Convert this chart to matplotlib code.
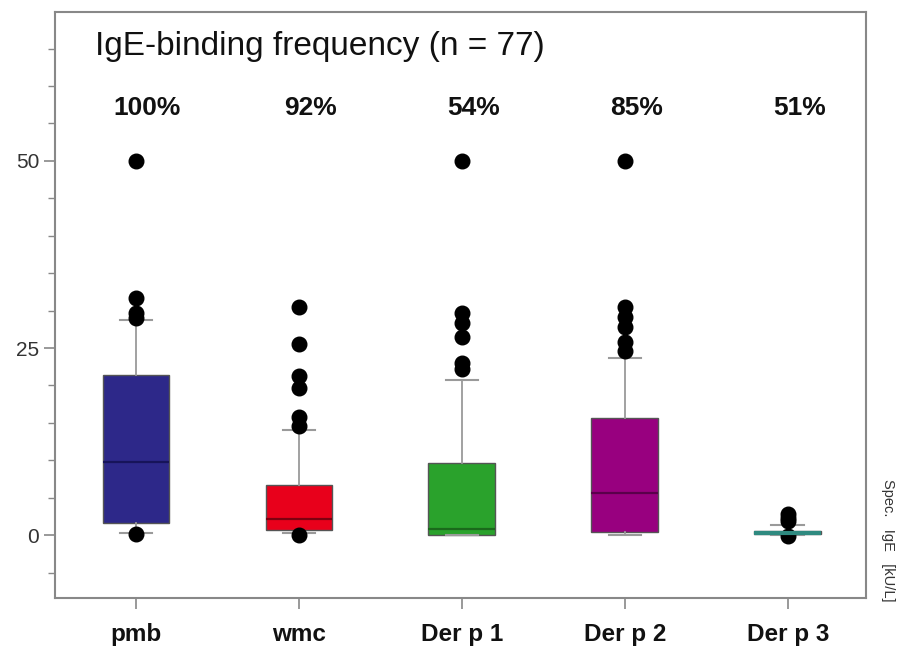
import matplotlib
matplotlib.use("Agg")
import matplotlib.pyplot as plt
from matplotlib.ticker import MultipleLocator

plt.rcParams['font.family'] = ['Liberation Sans', 'DejaVu Sans']

# data (spec. IgE, kU/L)
labels = ["pmb", "wmc", "Der p 1", "Der p 2", "Der p 3"]
percent = ["100%", "92%", "54%", "85%", "51%"]
q1 = [1.6, 0.7, 0.0, 0.45, 0.15]
med = [9.8, 2.1, 0.8, 5.6, 0.35]
q3 = [21.4, 6.7, 9.6, 15.6, 0.55]
whislo = [0.3, 0.25, 0.0, 0.0, 0.0]
whishi = [28.7, 14.0, 20.7, 23.7, 1.4]
fliers = [
    [50, 31.7, 29.7, 29.0, 0.2],
    [30.5, 25.6, 21.2, 19.7, 15.8, 14.6, 0.0],
    [50, 29.7, 28.4, 26.5, 23.0, 22.2],
    [50, 30.5, 29.2, 27.8, 25.8, 24.6],
    [2.8, 2.3, 1.9, -0.1],
]
colors = ["#2d2889", "#e8001b", "#2aa22c", "#98007f", "#2f8a80"]
median_colors = ["#17145a", "#7e0010", "#1a6a1b", "#5a004b", "#1d5c55"]

fig = plt.figure(figsize=(9.05, 6.47), dpi=100)
ax = fig.add_axes([0.0608, 0.0757, 0.8961, 0.9058])

stats = []
for i in range(len(labels)):
    stats.append(dict(q1=q1[i], med=med[i], q3=q3[i], whislo=whislo[i],
                      whishi=whishi[i], fliers=fliers[i], label=labels[i]))

pos = list(range(1, len(labels) + 1))
bp = ax.bxp(stats, positions=pos, widths=0.41, capwidths=0.2, patch_artist=True,
            boxprops=dict(edgecolor="#555555", linewidth=1.0),
            whiskerprops=dict(color="#9a9a9a", linewidth=1.3),
            capprops=dict(color="#9a9a9a", linewidth=1.5),
            flierprops=dict(marker="o", markerfacecolor="black",
                            markeredgecolor="black", markersize=10.5))
for i, b in enumerate(bp["boxes"]):
    b.set_facecolor(colors[i])
for i, m in enumerate(bp["medians"]):
    m.set_color(median_colors[i])
    m.set_linewidth(1.6)
bp["medians"][4].set_color(colors[4])
bp["medians"][4].set_linewidth(3)

ax.set_xlim(0.503, 5.48)
ax.set_ylim(-8.4, 69.9)
ax.set_yticks([0, 25, 50])
ax.yaxis.set_minor_locator(MultipleLocator(5))
ax.set_xticks(pos)
ax.set_xticklabels(labels, fontsize=17.5, fontweight="bold", color="#111111")
ax.tick_params(axis="y", which="major", labelsize=15, labelcolor="#333333",
               color="#888888", length=8, width=1.2)
ax.tick_params(axis="y", which="minor", color="#888888", length=5, width=1.0)
ax.tick_params(axis="x", color="#888888", length=8, width=1.2, pad=10)

for s in ax.spines.values():
    s.set_color("#888888")
    s.set_linewidth(1.5)

ax.text(0.75, 65.3, "IgE-binding frequency (n = 77)", fontsize=24,
        ha="left", va="center", color="#111111")
for i, p in enumerate(percent):
    ax.text(pos[i] + 0.07, 57.1, p, fontsize=19, fontweight="bold", ha="center",
            va="center", color="#111111")

fig.text(0.981, 0.165, "Spec.   IgE   [kU/L]", rotation=270, fontsize=10.5,
         ha="center", va="center", color="#333333")

fig.savefig("out.png", dpi=100)
